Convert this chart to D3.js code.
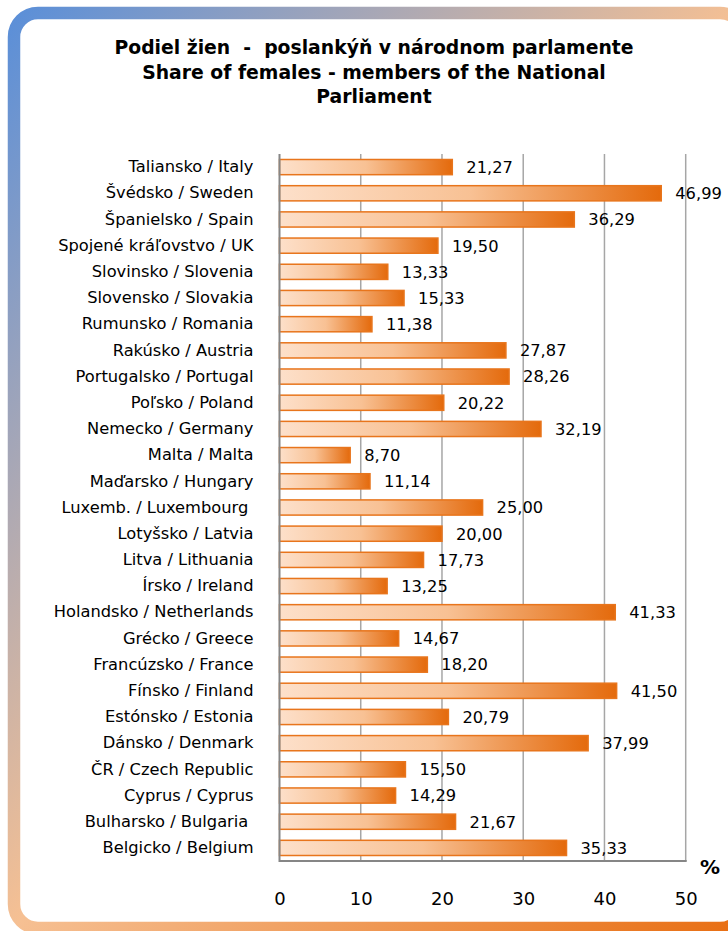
<!DOCTYPE html>
<html>
<head>
<meta charset="utf-8">
<script src="https://cdn.jsdelivr.net/npm/d3@7"></script>
<style>
  html, body { margin: 0; padding: 0; background: #fff; }
  svg { display: block; }
  text { white-space: pre; }
</style>
</head>
<body>
<div id="chart"></div>
<script>
// data, top to bottom as shown
var countries = ["Taliansko / Italy", "Švédsko / Sweden", "Španielsko / Spain", "Spojené kráľovstvo / UK",
  "Slovinsko / Slovenia", "Slovensko / Slovakia", "Rumunsko / Romania", "Rakúsko / Austria",
  "Portugalsko / Portugal", "Poľsko / Poland", "Nemecko / Germany", "Malta / Malta",
  "Maďarsko / Hungary", "Luxemb. / Luxembourg ", "Lotyšsko / Latvia", "Litva / Lithuania",
  "Írsko / Ireland", "Holandsko / Netherlands", "Grécko / Greece", "Francúzsko / France",
  "Fínsko / Finland", "Estónsko / Estonia", "Dánsko / Denmark", "ČR / Czech Republic",
  "Cyprus / Cyprus", "Bulharsko / Bulgaria ", "Belgicko / Belgium"];
var shares = [21.27, 46.99, 36.29, 19.50, 13.33, 15.33, 11.38, 27.87, 28.26, 20.22, 32.19, 8.70,
  11.14, 25.00, 20.00, 17.73, 13.25, 41.33, 14.67, 18.20, 41.50, 20.79, 37.99, 15.50, 14.29, 21.67, 35.33];
var xTicks = [0, 10, 20, 30, 40, 50];
var titleLines = ["Podiel žien  -  poslankýň v národnom parlamente",
  "Share of females - members of the National", "Parliament"];

var W = 728, H = 931;
var FONT = "DejaVu Sans, Verdana, sans-serif";
var svg = d3.select("#chart").append("svg").attr("width", W).attr("height", H);
var defs = svg.append("defs");

var frameGrad = defs.append("linearGradient").attr("id", "frameGrad")
  .attr("x1", 0).attr("y1", 0).attr("x2", 1).attr("y2", 1);
frameGrad.append("stop").attr("offset", "0%").attr("stop-color", "#5b8fd8");
frameGrad.append("stop").attr("offset", "50%").attr("stop-color", "#f6c093");
frameGrad.append("stop").attr("offset", "100%").attr("stop-color", "#e86e12");

var barGrad = defs.append("linearGradient").attr("id", "barGrad")
  .attr("x1", 0).attr("y1", 0).attr("x2", 1).attr("y2", 0);
barGrad.append("stop").attr("offset", "0%").attr("stop-color", "#fde0ca");
barGrad.append("stop").attr("offset", "50%").attr("stop-color", "#f8c194");
barGrad.append("stop").attr("offset", "100%").attr("stop-color", "#e46a0c");

// rounded frame (right side runs past the window edge)
svg.append("rect")
  .attr("x", 14).attr("y", 13).attr("width", 730).attr("height", 915)
  .attr("rx", 24).attr("ry", 24)
  .attr("fill", "#fff").attr("stroke", "url(#frameGrad)").attr("stroke-width", 12.5);

// title
svg.append("g").selectAll("text").data(titleLines).enter().append("text")
  .attr("x", 374).attr("y", (d, i) => 54 + i * 24.5)
  .attr("text-anchor", "middle")
  .style("font-family", FONT)
  .style("font-weight", "bold").style("font-size", "18.8px")
  .text(d => d);

var pLeft = 279.5, pRight = 685.7, pTop = 154, pBottom = 861;

var x = d3.scaleLinear().domain([0, 50]).range([pLeft, pRight]);
var y = d3.scaleBand().domain(countries).range([pTop, pBottom]).paddingInner(0.42).paddingOuter(0.21);

// grid
svg.append("g").selectAll("line").data(xTicks.slice(1)).enter().append("line")
  .attr("x1", d => x(d)).attr("x2", d => x(d))
  .attr("y1", pTop).attr("y2", pBottom)
  .attr("stroke", "#a6a6a6").attr("stroke-width", 1.5);

// bars
svg.append("g").selectAll("rect").data(shares).enter().append("rect")
  .attr("x", x(0))
  .attr("y", (d, i) => y(countries[i]))
  .attr("width", d => x(d) - x(0))
  .attr("height", y.bandwidth())
  .attr("fill", "url(#barGrad)")
  .attr("stroke", "#e8751c").attr("stroke-width", 1.5);

// axis frame lines
svg.append("line").attr("x1", pLeft).attr("x2", pLeft).attr("y1", pTop).attr("y2", pBottom + 1)
  .attr("stroke", "#868686").attr("stroke-width", 2);
svg.append("line").attr("x1", pLeft).attr("x2", pRight + 1).attr("y1", pBottom).attr("y2", pBottom)
  .attr("stroke", "#868686").attr("stroke-width", 2);

// value labels
svg.append("g").selectAll("text").data(shares).enter().append("text")
  .attr("x", d => x(d) + 14)
  .attr("y", (d, i) => y(countries[i]) + y.bandwidth() / 2)
  .attr("dy", "0.36em")
  .style("font-family", FONT).style("font-size", "16.3px")
  .attr("fill", "#000")
  .text(d => d3.format(".2f")(d).replace(".", ","));

// category axis
var yAxis = d3.axisLeft(y).tickSize(0).tickPadding(26);
var yg = svg.append("g").attr("transform", "translate(" + pLeft + ",0)").call(yAxis);
yg.select(".domain").remove();
yg.selectAll("text")
  .style("font-family", FONT).style("font-size", "16.3px")
  .attr("fill", "#000");

// value axis
var xAxis = d3.axisBottom(x).tickValues(xTicks).tickSize(0).tickPadding(0);
var xg = svg.append("g").attr("transform", "translate(0,892)").call(xAxis);
xg.select(".domain").remove();
xg.selectAll("text")
  .style("font-family", FONT).style("font-size", "18px")
  .attr("fill", "#000");

svg.append("text").attr("x", 710).attr("y", 874).attr("text-anchor", "middle")
  .style("font-family", FONT)
  .style("font-weight", "bold").style("font-size", "20px")
  .text("%");
</script>
</body>
</html>
